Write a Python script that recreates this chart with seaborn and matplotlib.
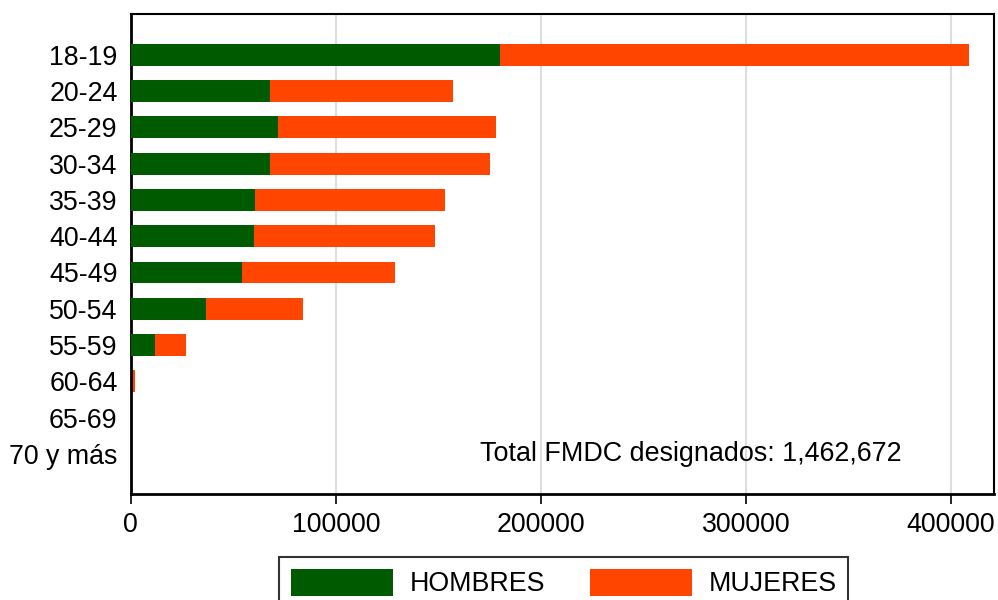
import pandas as pd
import matplotlib
matplotlib.use('Agg')
import matplotlib.pyplot as plt
import seaborn as sns
from matplotlib.patches import Patch

# data
grupos = ['18-19', '20-24', '25-29', '30-34', '35-39', '40-44', '45-49',
          '50-54', '55-59', '60-64', '65-69', '70 y más']
hombres = [180000, 67800, 71700, 67800, 60500, 60000, 54100, 36600, 12000, 300, 100, 50]
mujeres = [228800, 89300, 106300, 107300, 92700, 88300, 74700, 47300, 14800, 1700, 400, 250]
total_txt = 'Total FMDC designados: 1,462,672'

verde = '#005A00'
naranja = '#FF4500'

df = pd.DataFrame({'grupo': grupos, 'hombres': hombres, 'mujeres': mujeres})
df['total'] = df['hombres'] + df['mujeres']

sns.set_style('white')
plt.rcParams['font.family'] = ['Liberation Sans', 'DejaVu Sans']
plt.rcParams['text.color'] = 'black'
plt.rcParams['xtick.color'] = 'black'
plt.rcParams['ytick.color'] = 'black'

fig = plt.figure(figsize=(9.98, 6), dpi=100)
ax = fig.add_axes([0.131, 0.177, 0.865, 0.8])

# stacked: total (orange) first, then men (green) on top
sns.barplot(data=df, x='total', y='grupo', orient='h', color=naranja,
            width=0.6, saturation=1, linewidth=0, ax=ax, zorder=2)
sns.barplot(data=df, x='hombres', y='grupo', orient='h', color=verde,
            width=0.6, saturation=1, linewidth=0, ax=ax, zorder=3)

ax.set_xlim(0, 421000)
ax.set_ylim(12.1, -1.13)
ax.set_xticks([0, 100000, 200000, 300000, 400000])
ax.set_xlabel('')
ax.set_ylabel('')
ax.xaxis.grid(True, color='#dddddd', linewidth=1.5, zorder=0)
ax.set_axisbelow(True)

ax.tick_params(axis='x', bottom=True, length=7, width=1.2, labelsize=19.3, pad=6)
ax.tick_params(axis='y', left=False, labelsize=19.3, pad=6)

for s in ['left', 'bottom']:
    ax.spines[s].set_linewidth(2)
    ax.spines[s].set_color('black')
for s in ['top', 'right']:
    ax.spines[s].set_linewidth(1.5)
    ax.spines[s].set_color('black')

ax.text(170500, 11, total_txt, fontsize=19.4, va='center', ha='left')

handles = [Patch(facecolor=verde, linewidth=0, label='HOMBRES'),
           Patch(facecolor=naranja, linewidth=0, label='MUJERES')]
leg = fig.legend(handles=handles, loc='upper center', bbox_to_anchor=(0.565, 0.072),
                 ncol=2, fontsize=19.3, frameon=True, fancybox=False,
                 edgecolor='black', handlelength=3.8, handleheight=1.17,
                 handletextpad=0.6, columnspacing=1.7, borderpad=0.45,
                 borderaxespad=0)
leg.get_frame().set_linewidth(1.5)

fig.savefig('out.png', dpi=100)
